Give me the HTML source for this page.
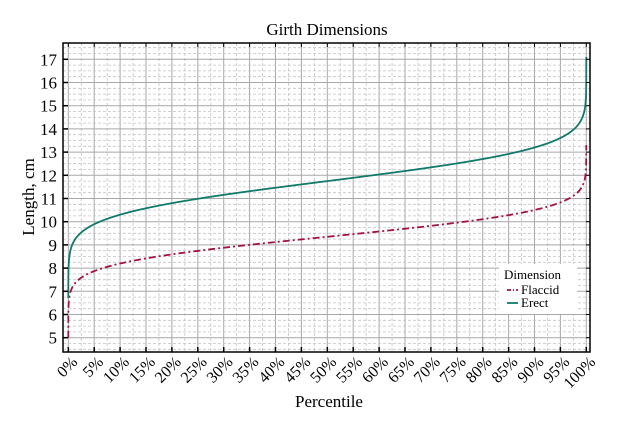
<!DOCTYPE html>
<html><head><meta charset="utf-8"><style>
html,body{margin:0;padding:0;background:#fff}
svg{display:block;font-family:"Liberation Serif",serif}
</style></head><body>
<svg id="s" width="634" height="423" xmlns="http://www.w3.org/2000/svg">
<rect width="634" height="423" fill="#fff"/>
<g id="grid"></g>
<path id="fl" fill="none" stroke="#a3123f" stroke-width="1.8" stroke-dasharray="7,3,2,3"/>
<path id="er" fill="none" stroke="#117a6b" stroke-width="1.8"/>
<rect x="63" y="43" width="527" height="309" fill="none" stroke="#000" stroke-width="1.5"/>
<g id="ticks"></g>
<text x="327" y="35" text-anchor="middle" font-size="17">Girth Dimensions</text>
<text x="329" y="407" text-anchor="middle" font-size="17">Percentile</text>
<text transform="translate(34,197) rotate(-90)" text-anchor="middle" font-size="17">Length, cm</text>
<rect x="499" y="264" width="78" height="50" fill="#fff"/>
<text x="504" y="279" font-size="13">Dimension</text>
<line x1="507" y1="290" x2="518" y2="290" stroke="#a3123f" stroke-width="1.8" stroke-dasharray="4,2,1,2"/>
<text x="521" y="294" font-size="13">Flaccid</text>
<line x1="507" y1="303" x2="518" y2="303" stroke="#117a6b" stroke-width="1.8"/>
<text x="521" y="307" font-size="13">Erect</text>
</svg>
<script>
var NS="http://www.w3.org/2000/svg";
function X(p){return 68.3+p*5.18;}
function Y(v){return 337.7-(v-5)*23.2;}
function el(t,a,par,txt){var e=document.createElementNS(NS,t);for(var k in a)e.setAttribute(k,a[k]);if(txt!==undefined)e.textContent=txt;document.getElementById(par).appendChild(e);}
for(var i=-2;i<=41;i++){var p=i*2.5,x=X(p);if(x<=63||x>=590)continue;var maj=(i%2==0);
el("line",{x1:x,x2:x,y1:43,y2:352,stroke:maj?"#a8a8a8":"#c4c4c4","stroke-width":maj?1:0.8,"stroke-dasharray":maj?"":"3,2"},"grid");}
for(var v=4.25;v<=17.75;v+=0.25){var y=Y(v);if(y<=43||y>=352)continue;var maj=Math.abs(v-Math.round(v))<1e-6;
el("line",{x1:63,x2:590,y1:y,y2:y,stroke:maj?"#a8a8a8":"#c4c4c4","stroke-width":maj?1:0.8,"stroke-dasharray":maj?"":"3,2"},"grid");}
for(var v=5;v<=17;v++){var y=Y(v);el("line",{x1:63,x2:68,y1:y,y2:y,stroke:"#000","stroke-width":1.5},"ticks");
el("line",{x1:590,x2:586,y1:y,y2:y,stroke:"#000","stroke-width":1},"ticks");
el("text",{x:57,y:y+6,"text-anchor":"end","font-size":17},"ticks",String(v));}
for(var p=0;p<=100;p+=5){var x=X(p);el("line",{x1:x,x2:x,y1:352,y2:347,stroke:"#000","stroke-width":1.5},"ticks");
el("line",{x1:x,x2:x,y1:43,y2:47,stroke:"#000","stroke-width":1},"ticks");
el("text",{x:0,y:0,"text-anchor":"end","font-size":16,transform:"translate("+(x+10)+",363) rotate(-45)"},"ticks",p+"%");}
function qn(p){var a=[-39.6968302866538,220.946098424521,-275.928510446969,138.357751867269,-30.6647980661472,2.50662827745924],
b=[-54.4760987982241,161.585836858041,-155.698979859887,66.8013118877197,-13.2806815528857],
c=[-0.00778489400243029,-0.322396458041136,-2.40075827716184,-2.54973253934373,4.37466414146497,2.93816398269878],
d=[0.00778469570904146,0.32246712907004,2.445134137143,3.75440866190742];var q,r;
if(p<0.02425){q=Math.sqrt(-2*Math.log(p));return (((((c[0]*q+c[1])*q+c[2])*q+c[3])*q+c[4])*q+c[5])/((((d[0]*q+d[1])*q+d[2])*q+d[3])*q+1);}
if(p>1-0.02425){q=Math.sqrt(-2*Math.log(1-p));return -(((((c[0]*q+c[1])*q+c[2])*q+c[3])*q+c[4])*q+c[5])/((((d[0]*q+d[1])*q+d[2])*q+d[3])*q+1);}
q=p-0.5;r=q*q;return (((((a[0]*r+a[1])*r+a[2])*r+a[3])*r+a[4])*r+a[5])*q/(((((b[0]*r+b[1])*r+b[2])*r+b[3])*r+b[4])*r+1);}
function curve(m,s,lo,hi){var ps=[];for(var i=1;i<=40;i++)ps.push(i*0.025);for(var i=1;i<1000;i++)ps.push(i);for(var i=1;i<=40;i++)ps.push(1000-40*0.025+i*0.025-0.0001);
var d="M"+X(0).toFixed(2)+","+Y(lo).toFixed(2);
ps.forEach(function(k){var p=k/1000;var v=m+s*qn(p);v=Math.max(lo,Math.min(hi,v));d+="L"+X(p*100).toFixed(2)+","+Y(v).toFixed(2);});
d+="L"+X(100).toFixed(2)+","+Y(hi).toFixed(2);return d;}
document.getElementById("er").setAttribute("d",curve(11.75,1.13,6.7,17.1));
document.getElementById("fl").setAttribute("d",curve(9.35,0.9,5.0,13.3));
</script>
</body></html>
